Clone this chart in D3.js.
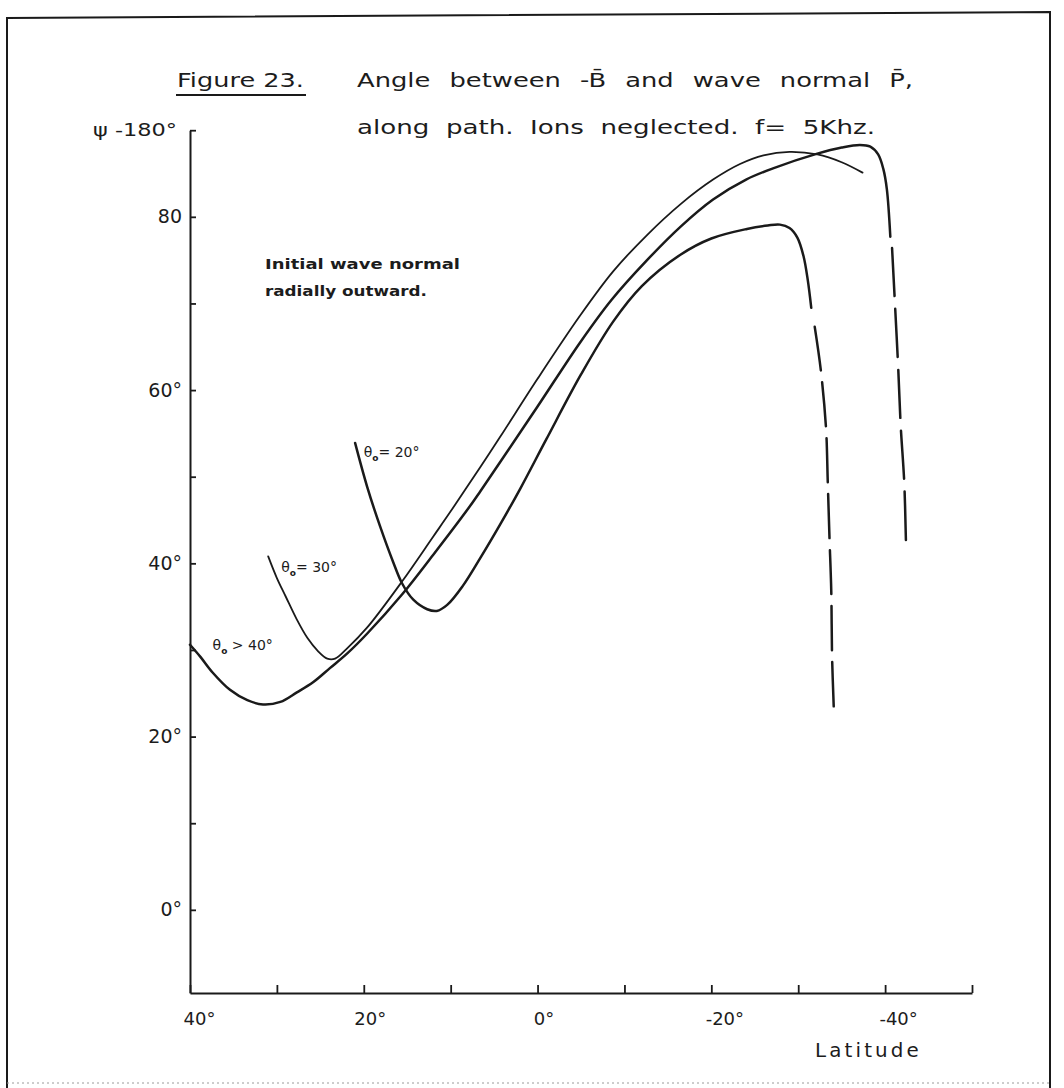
<!DOCTYPE html>
<html>
<head>
<meta charset="utf-8">
<script src="https://cdn.jsdelivr.net/npm/d3@7"></script>
<style>
  html, body { margin: 0; padding: 0; background: #ffffff; }
  svg { display: block; }
  text { font-family: "DejaVu Sans", "Liberation Sans", sans-serif; fill: #1c1c1c; }
</style>
</head>
<body>
<svg id="chart" width="1064" height="1088"></svg>
<script>
// Angle psi-180 (deg) against latitude (deg) along the ray path, f = 5 kHz.
// Each curve: [latitude, angle] pairs; solid part then the dashed continuation.
const theta40Solid = [
  [40.0, 30.6], [38.8, 29.2], [37.4, 27.4], [35.4, 25.4], [33.4, 24.2], [31.6, 23.7],
  [29.6, 24.0], [27.7, 25.1], [25.8, 26.3], [23.9, 27.9], [21.9, 29.6], [19.6, 31.9],
  [15.6, 36.4], [12.0, 41.0], [8.0, 46.3], [6.6, 48.3], [4.3, 51.7], [0.0, 58.1],
  [-4.9, 65.5], [-8.5, 70.4], [-12.6, 75.0], [-16.5, 78.9], [-20.2, 82.0], [-24.0, 84.3],
  [-27.1, 85.6], [-32.2, 87.3], [-35.0, 88.0], [-37.1, 88.3], [-38.3, 88.1], [-39.2, 87.2],
  [-39.8, 85.5], [-40.2, 83.2], [-40.6, 77.7]
];
const theta40Dashed = [
  [-40.8, 76.4], [-41.1, 70.6], [-41.5, 62.7], [-41.8, 55.8], [-42.2, 49.4], [-42.4, 42.4]
];
const theta30Solid = [
  [31.0, 40.8], [30.0, 38.3], [29.0, 36.2], [27.7, 33.5], [26.5, 31.4], [25.3, 29.9],
  [24.2, 29.0], [23.3, 29.0], [22.0, 30.1], [19.6, 32.6], [15.6, 37.9], [12.0, 43.1],
  [10.0, 46.0], [6.6, 51.1], [4.3, 54.6], [0.0, 61.3], [-4.9, 68.6], [-8.7, 73.7],
  [-12.6, 77.9], [-16.5, 81.5], [-20.2, 84.3], [-23.3, 86.1], [-26.0, 87.1], [-29.0, 87.5],
  [-32.2, 87.2], [-35.0, 86.3], [-37.4, 85.1]
];
const theta20Solid = [
  [21.0, 53.9], [19.6, 48.8], [18.1, 44.2], [16.6, 40.1], [15.6, 37.7], [14.3, 35.8],
  [12.7, 34.7], [11.6, 34.5], [10.4, 35.2], [8.6, 37.4], [6.6, 40.6], [4.3, 44.5],
  [2.0, 48.6], [-1.0, 54.3], [-5.0, 61.8], [-8.7, 67.9], [-12.0, 72.0], [-16.4, 75.6],
  [-20.0, 77.5], [-24.1, 78.6], [-26.5, 79.0], [-27.9, 79.1], [-29.0, 78.7], [-29.9, 77.6],
  [-30.6, 75.5], [-31.1, 72.7], [-31.5, 69.5]
];
const theta20Dashed = [
  [-31.9, 67.3], [-32.6, 62.3], [-33.2, 55.6], [-33.4, 49.4], [-33.6, 42.9],
  [-33.8, 36.9], [-33.9, 29.1], [-34.1, 23.1]
];

// Axis ticks
const xTickValues = [40, 30, 20, 10, 0, -10, -20, -30, -40, -50];
const xTickLabels = ["40°", "", "20°", "", "0°", "", "-20°", "", "-40°", ""];
const yTickValues = [0, 10, 20, 30, 40, 50, 60, 70, 80, 90];
const yTickLabels = ["0°", "", "20°", "", "40°", "", "60°", "", "80", ""];

const svg = d3.select("#chart");
const ink = "#1a1a1a";

const x = d3.scaleLinear().domain([40, -50]).range([190, 972]);
const y = d3.scaleLinear().domain([-9.6, 90]).range([993, 130.2]);

// Page frame
svg.append("path")
  .attr("d", "M7,1088 L7,18 L1050,12 L1050,1088")
  .attr("fill", "none").attr("stroke", ink).attr("stroke-width", 2);
svg.append("line")
  .attr("x1", 7).attr("x2", 1050).attr("y1", 1083).attr("y2", 1083)
  .attr("stroke", "#9a9a9a").attr("stroke-width", 1).attr("stroke-dasharray", "2,3");

// Axes
const xAxis = d3.axisBottom(x)
  .tickValues(xTickValues)
  .tickSizeInner(-8).tickSizeOuter(0)
  .tickFormat((d, i) => xTickLabels[i]);
const gx = svg.append("g").attr("transform", `translate(0,${y.range()[0]})`).call(xAxis);
gx.select(".domain").attr("stroke", ink).attr("stroke-width", 2.2);
gx.selectAll(".tick line").attr("stroke", ink).attr("stroke-width", 1.8);
gx.selectAll(".tick text")
  .attr("y", 19).attr("dy", "0.71em")
  .attr("x", d => d === 40 ? 9 : (d < 0 ? 13 : 6))
  .style("font-size", "18px").attr("fill", ink);

const yAxis = d3.axisLeft(y)
  .tickValues(yTickValues)
  .tickSizeInner(-6).tickSizeOuter(0)
  .tickFormat((d, i) => yTickLabels[i]);
const gy = svg.append("g").attr("transform", `translate(${x.range()[0]},0)`).call(yAxis);
gy.select(".domain").attr("stroke", ink).attr("stroke-width", 2);
gy.selectAll(".tick line").attr("stroke", ink).attr("stroke-width", 1.8);
gy.selectAll(".tick text")
  .attr("x", -8)
  .style("font-size", "19px").attr("fill", ink);

// Axis titles
svg.append("text")
  .attr("x", 93).attr("y", y(90) + 6)
  .style("font-size", "18px")
  .attr("textLength", 84).attr("lengthAdjust", "spacingAndGlyphs")
  .text("ψ -180°");
svg.append("text")
  .attr("x", 815).attr("y", 1057)
  .style("font-size", "19px").style("letter-spacing", "3px")
  .attr("textLength", 107).attr("lengthAdjust", "spacingAndGlyphs")
  .text("Latitude");

// Title
svg.append("text")
  .attr("x", 177).attr("y", 87)
  .style("font-size", "19px")
  .attr("textLength", 127).attr("lengthAdjust", "spacingAndGlyphs")
  .text("Figure 23.");
svg.append("line")
  .attr("x1", 176).attr("x2", 306).attr("y1", 95).attr("y2", 95)
  .attr("stroke", ink).attr("stroke-width", 1.8);
svg.append("text")
  .attr("x", 357).attr("y", 87)
  .style("font-size", "19px").style("word-spacing", "8px")
  .attr("textLength", 556).attr("lengthAdjust", "spacingAndGlyphs")
  .text("Angle between  -B̄  and wave normal  P̄,");
svg.append("text")
  .attr("x", 357).attr("y", 134)
  .style("font-size", "19px").style("word-spacing", "6px")
  .attr("textLength", 518).attr("lengthAdjust", "spacingAndGlyphs")
  .text("along path.  Ions neglected.  f= 5Khz.");

// Note
svg.append("text")
  .attr("x", 265).attr("y", 269)
  .style("font-size", "14px").style("font-weight", "bold")
  .attr("textLength", 195).attr("lengthAdjust", "spacingAndGlyphs")
  .text("Initial wave normal");
svg.append("text")
  .attr("x", 265).attr("y", 296)
  .style("font-size", "14px").style("font-weight", "bold")
  .attr("textLength", 162).attr("lengthAdjust", "spacingAndGlyphs")
  .text("radially outward.");

// Curves
const line = d3.line().x(d => x(d[0])).y(d => y(d[1])).curve(d3.curveCatmullRom.alpha(0.5));
function drawCurve(data, width, dash) {
  svg.append("path")
    .datum(data)
    .attr("d", line)
    .attr("fill", "none")
    .attr("stroke", ink)
    .attr("stroke-width", width)
    .attr("stroke-linecap", "round")
    .attr("stroke-linejoin", "round")
    .attr("stroke-dasharray", dash || null);
}
drawCurve(theta40Solid, 2.5);
drawCurve(theta40Dashed, 2.5, "48,13");
drawCurve(theta30Solid, 1.8);
drawCurve(theta20Solid, 2.5);
drawCurve(theta20Dashed, 2.5, "44,12");

// Curve labels: theta_0 values
function thetaLabel(px, py, rest) {
  const t = svg.append("text").attr("x", px).attr("y", py).style("font-size", "14px");
  t.append("tspan").text("θ");
  t.append("tspan").attr("dy", 4).style("font-size", "9px").style("font-weight", "bold").text("o");
  t.append("tspan").attr("dy", -4).text(rest);
}
thetaLabel(x(20.0), y(52.3), "= 20°");
thetaLabel(x(29.5), y(39.0), "= 30°");
thetaLabel(x(37.4), y(30.0), " > 40°");
</script>
</body>
</html>
